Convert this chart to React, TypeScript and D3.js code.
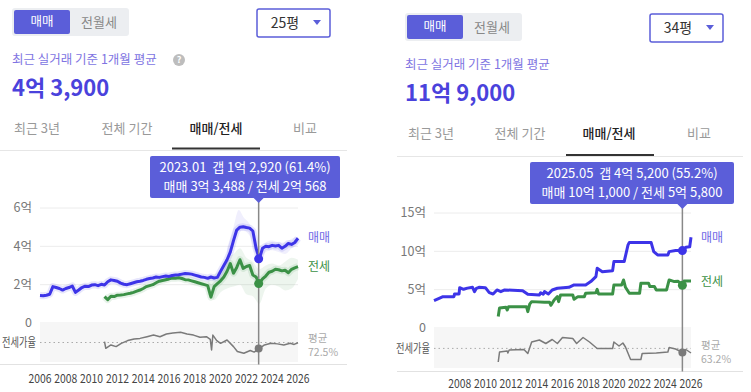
import React from 'react';
import * as d3 from 'd3';

const FONT = '"Noto Sans CJK KR", "Noto Sans", sans-serif';
const BLUE = '#3d34e8';
const GREEN = '#3b9146';
const GREY = '#7a7a7a';
const ACCENT = '#5b5ed9';

type Pt = [number, number];
type Band = [number, number, number];

// ---- 25평 (left), quarterly values in 억 ----
const leftSaleStart = 2006;
const leftSale = [
  1.43, 1.42, 1.45, 1.5, 1.9, 1.85, 1.8, 1.72,
  1.8, 1.85, 1.93, 1.6, 1.72, 1.85, 1.92, 1.9,
  1.98, 2.0, 1.95, 2.02, 1.98, 2.15, 2.25, 2.22,
  2.18, 2.08, 2.02, 2.0, 2.05, 2.1, 2.15, 2.18,
  2.22, 2.28, 2.32, 2.35, 2.4, 2.38, 2.42, 2.45,
  2.43, 2.48, 2.5, 2.52, 2.55, 2.58, 2.57, 2.55,
  2.5, 2.45, 2.4, 2.38, 2.33, 2.4, 2.35, 2.38,
  2.7, 3.0, 3.3, 3.7, 4.3, 4.85, 5.0, 5.02,
  4.98, 4.95, 4.8, 3.9, 3.35, 3.9, 4.0, 3.98,
  4.05, 4.02, 4.05, 3.9, 4.0, 4.15, 4.1, 4.2,
  4.42,
];
const leftJeonseStart = 2011;
const leftJeonse = [
  1.38, 1.22, 1.4, 1.38, 1.45, 1.46, 1.48, 1.52,
  1.55, 1.6, 1.66, 1.72, 1.8, 1.9, 1.95, 2.0,
  2.1, 2.18, 2.22, 2.26, 2.3, 2.35, 2.33, 2.36,
  2.32, 2.26, 2.25, 2.2, 2.15, 2.1, 2.05, 2.0,
  1.95, 1.35, 1.9, 2.05, 2.2, 2.4, 2.7, 3.1,
  2.6, 2.9, 3.3, 2.85, 2.95, 3.0, 2.5, 2.4,
  2.06, 2.3, 2.45, 2.65, 2.7, 2.8, 2.78, 2.72,
  2.75, 2.62, 2.8, 2.88, 2.94,
];
const leftRatio: Pt[] = [
  [2011.0, 74], [2011.1, 62], [2011.5, 68], [2011.9, 65], [2012.3, 71], [2012.8, 76],
  [2013.3, 79], [2013.75, 80], [2014.3, 83], [2014.8, 86], [2015.3, 83], [2015.8, 88],
  [2016.3, 90], [2016.9, 91], [2017.4, 88], [2017.9, 86], [2018.4, 82], [2018.9, 83],
  [2019.2, 78], [2019.3, 59], [2019.4, 86], [2019.7, 76], [2020.0, 71], [2020.5, 77],
  [2021.0, 65], [2021.3, 56], [2021.8, 53], [2022.3, 58], [2022.6, 55], [2023.0, 61.4],
  [2023.4, 68], [2023.9, 71], [2024.4, 70], [2024.9, 68], [2025.4, 71], [2025.7, 69],
  [2026.0, 72],
];
const leftSaleBand: Band[] = [
  [2020.5, 3.3, 3.9], [2021.0, 4.2, 5.0], [2021.4, 4.8, 5.9], [2021.8, 4.8, 5.5],
  [2022.3, 4.5, 5.1], [2022.7, 3.6, 4.3], [2023.0, 3.3, 3.6], [2023.5, 3.7, 4.2],
  [2024.0, 3.8, 4.3], [2024.5, 3.7, 4.2], [2025.0, 3.6, 4.2], [2025.5, 3.9, 4.4],
  [2026.0, 4.2, 4.5],
];
const leftJeonseBand: Band[] = [
  [2019.0, 1.5, 2.3], [2019.5, 1.2, 2.5], [2020.0, 1.6, 2.8], [2020.5, 1.8, 3.4],
  [2021.0, 1.9, 3.6], [2021.5, 2.0, 3.9], [2022.0, 1.5, 3.4], [2022.5, 1.4, 3.2],
  [2023.0, 1.0, 2.8], [2023.5, 1.8, 3.0], [2024.0, 2.0, 3.1], [2024.5, 1.9, 3.0],
  [2025.0, 1.7, 3.2], [2025.5, 1.8, 3.4], [2026.0, 2.3, 3.3],
];

// ---- 34평 (right), step points [year, 억] ----
const rightSale: Pt[] = [
  [2006.0, 3.57], [2006.4, 3.87], [2006.7, 4.09], [2007.55, 4.09], [2007.6, 4.44], [2007.95, 4.44],
  [2008.0, 5.26], [2008.3, 5.05], [2008.6, 5.2], [2009.0, 5.31], [2009.15, 4.74], [2009.3, 5.18],
  [2009.5, 5.31], [2010.0, 5.26], [2010.3, 4.61], [2010.6, 4.44], [2010.9, 4.96], [2011.2, 4.74],
  [2011.5, 4.96], [2012.9, 4.87], [2013.3, 4.39], [2014.2, 4.31], [2014.3, 4.6], [2014.5, 4.4],
  [2014.6, 4.74], [2014.9, 4.44], [2015.2, 4.96], [2015.6, 5.18], [2016.5, 5.31], [2016.9, 5.61],
  [2017.8, 5.61], [2018.2, 6.05], [2018.6, 6.7], [2018.7, 7.79], [2019.1, 7.35], [2019.9, 7.48],
  [2020.0, 8.66], [2020.8, 8.66], [2021.1, 10.84], [2021.2, 11.14], [2022.9, 11.14], [2023.1, 9.96],
  [2023.4, 9.53], [2024.2, 9.53], [2024.3, 9.96], [2024.8, 10.1], [2025.4, 10.1], [2025.6, 10.53],
  [2025.9, 10.6], [2026.0, 11.84],
];
const rightJeonse: Pt[] = [
  [2011.0, 1.5], [2011.1, 2.6], [2011.6, 2.7], [2011.7, 2.35], [2011.8, 2.78], [2013.2, 2.78],
  [2013.3, 2.13], [2013.45, 3.1], [2013.6, 3.44], [2014.6, 3.35], [2015.0, 3.35], [2015.1, 2.96],
  [2015.35, 3.66], [2015.6, 4.09], [2015.7, 3.44], [2015.85, 4.31], [2016.8, 4.31], [2016.9, 3.74],
  [2017.2, 4.09], [2017.7, 4.09], [2017.8, 4.53], [2018.6, 4.61], [2018.7, 5.05], [2018.8, 4.44],
  [2019.9, 4.44], [2020.0, 5.61], [2020.6, 5.61], [2020.75, 6.27], [2020.9, 5.31], [2021.2, 4.53],
  [2022.0, 4.53], [2022.1, 5.83], [2022.7, 5.83], [2022.8, 5.4], [2023.15, 5.4], [2023.3, 4.96],
  [2024.1, 4.96], [2024.3, 6.27], [2024.7, 6.05], [2025.0, 6.1], [2025.33, 5.58], [2025.45, 6.14],
  [2026.0, 6.14],
];
const rightRatio: Pt[] = [
  [2011.0, 36], [2011.1, 56], [2011.7, 58], [2011.75, 54], [2011.85, 60], [2013.0, 61],
  [2013.3, 53], [2013.6, 76], [2014.2, 80], [2014.7, 73], [2015.2, 81], [2015.6, 73],
  [2016.0, 85], [2016.8, 83], [2017.1, 73], [2017.6, 85], [2018.1, 76], [2018.7, 63],
  [2019.9, 63], [2020.0, 76], [2020.4, 68], [2020.7, 74], [2020.9, 66], [2021.3, 41],
  [2022.1, 41], [2022.2, 53], [2023.3, 54], [2024.2, 56], [2024.3, 65], [2024.8, 62],
  [2025.33, 55.2], [2025.6, 61], [2026.0, 54],
];

const leftYTicks = [0, 2, 4, 6];
const leftYTickLabels = ['0', '2억', '4억', '6억'];
const leftYears = [2006, 2008, 2010, 2012, 2014, 2016, 2018, 2020, 2022, 2024, 2026];
const rightYTicks = [0, 5, 10, 15];
const rightYTickLabels = ['0', '5억', '10억', '15억'];
const rightYears = [2008, 2010, 2012, 2014, 2016, 2018, 2020, 2022, 2024, 2026];

const tabs = ['최근 3년', '전체 기간', '매매/전세', '비교'];

const quarterly = (start: number, vals: number[]): Pt[] => vals.map((v, i) => [start + i * 0.25, v]);

interface PanelCfg {
  area: string; price: string; help: boolean;
  tog: [number, number]; drop: [number, number]; subY: number; priceY: number;
  tabY: number; tabX: number[]; under: [number, number, number]; divider: [number, number, number];
  x0: number; x1: number; yZero: number; yTop: number; yMax: number;
  yTicks: number[]; yTickLabels: string[]; years: number[]; yearY: number;
  ratioBottom: number; ratioDomain: [number, number]; avg: number; bottom: [number, number, number];
  cursor: number; tip: [number, number, number, number]; tipLines: string[];
  cur: { sale: number; jeonse: number; ratio: number };
  saleY: number; jeonseY: number; avgY: number;
  sale: Pt[]; jeonse: Pt[]; ratio: Pt[]; saleBand?: Band[]; jeonseBand?: Band[]; halo: boolean;
}

const left: PanelCfg = {
  area: '25평', price: '4억 3,900', help: true,
  tog: [12, 8], drop: [257, 9], subY: 60, priceY: 96,
  tabY: 128, tabX: [37, 127, 216, 305], under: [172, 260, 148.5], divider: [0, 347, 150.5],
  x0: 40, x1: 298, yZero: 323, yTop: 208, yMax: 6,
  yTicks: leftYTicks, yTickLabels: leftYTickLabels, years: leftYears, yearY: 379,
  ratioBottom: 362, ratioDomain: [37, 108], avg: 72.5, bottom: [0, 347, 364.5],
  cursor: 2022.95, tip: [150, 340, 156, 198],
  tipLines: ['2023.01\u00a0\u00a0갭 1억 2,920 (61.4%)', '매매 3억 3,488 / 전세 2억 568'],
  cur: { sale: 3.3488, jeonse: 2.0568, ratio: 61.4 },
  saleY: 238, jeonseY: 267, avgY: 338,
  sale: quarterly(leftSaleStart, leftSale), jeonse: quarterly(leftJeonseStart, leftJeonse), ratio: leftRatio,
  saleBand: leftSaleBand, jeonseBand: leftJeonseBand, halo: true,
};

const right: PanelCfg = {
  area: '34평', price: '11억 9,000', help: false,
  tog: [405, 13], drop: [650, 14], subY: 65, priceY: 101,
  tabY: 133, tabX: [431, 520, 609, 699], under: [566, 654, 155], divider: [397, 743, 156.5],
  x0: 434, x1: 691, yZero: 328, yTop: 213, yMax: 15,
  yTicks: rightYTicks, yTickLabels: rightYTickLabels, years: rightYears, yearY: 384,
  ratioBottom: 368, ratioDomain: [24, 104], avg: 63.2, bottom: [397, 743, 371.5],
  cursor: 2025.33, tip: [530, 734, 162, 204],
  tipLines: ['2025.05\u00a0\u00a0갭 4억 5,200 (55.2%)', '매매 10억 1,000 / 전세 5억 5,800'],
  cur: { sale: 10.1, jeonse: 5.58, ratio: 55.2 },
  saleY: 238, jeonseY: 282, avgY: 345,
  sale: rightSale, jeonse: rightJeonse, ratio: rightRatio, halo: false,
};

function Panel({ c }: { c: PanelCfg }) {
  const x = d3.scaleLinear().domain([2006, 2026]).range([c.x0, c.x1]);
  const y = d3.scaleLinear().domain([0, c.yMax]).range([c.yZero, c.yTop]);
  const r = d3.scaleLinear().domain(c.ratioDomain).range([c.ratioBottom, c.yZero]);
  const line = d3.line<Pt>().x(d => x(d[0])).y(d => y(d[1]));
  const rLine = d3.line<Pt>().x(d => x(d[0])).y(d => r(d[1]));
  const band = d3.area<Band>().x(d => x(d[0])).y0(d => y(d[1])).y1(d => y(d[2])).curve(d3.curveMonotoneX);
  const cx = x(c.cursor);
  const [tx0, tx1, ty0, ty1] = c.tip;
  const [gx, gy] = c.tog;
  const [dx, dy] = c.drop;
  const labelX = c.x1 + 10;

  return (
    <g fontFamily={FONT}>
      {/* header */}
      <rect x={gx} y={gy} width={117} height={28} rx={3} fill="#eceef1" />
      <rect x={gx + 2} y={gy + 2} width={56} height={24} rx={2} fill={ACCENT} />
      <text x={gx + 30} y={gy + 14} dy="0.35em" textAnchor="middle" fontSize={12.5} fill="#fff">매매</text>
      <text x={gx + 87} y={gy + 14} dy="0.35em" textAnchor="middle" fontSize={13} fill="#888">전월세</text>
      <rect x={dx} y={dy} width={73} height={28} rx={2} fill="#fff" stroke={ACCENT} strokeWidth={1.5} />
      <text x={dx + 28} y={dy + 14} dy="0.35em" textAnchor="middle" fontSize={14} fill="#333">{c.area}</text>
      <path d={`M${dx + 56},${dy + 11}L${dx + 64},${dy + 11}L${dx + 60},${dy + 16}Z`} fill={ACCENT} />
      <text x={c.tog[0]} y={c.subY} dy="0.35em" fontSize={12.5} fill="#8074e2">최근 실거래 기준 1개월 평균</text>
      {c.help && (
        <g>
          <circle cx={179} cy={c.subY} r={6} fill="#bdbdbd" />
          <text x={179} y={c.subY} dy="0.35em" textAnchor="middle" fontSize={9} fontWeight={700} fill="#fff">?</text>
        </g>
      )}
      <text x={c.tog[0]} y={c.priceY} fontSize={22} fontWeight={700} fill="#4a42dc">{c.price}</text>
      {tabs.map((t, i) => (
        <text key={t} x={c.tabX[i]} y={c.tabY} dy="0.35em" textAnchor="middle" fontSize={13}
          fill={i === 2 ? '#222' : '#999'} fontWeight={i === 2 ? 500 : 400}>{t}</text>
      ))}
      <line x1={c.divider[0]} x2={c.divider[1]} y1={c.divider[2]} y2={c.divider[2]} stroke="#e6e6e6" />
      <line x1={c.under[0]} x2={c.under[1]} y1={c.under[2]} y2={c.under[2]} stroke="#333" strokeWidth={2} />

      {/* grid */}
      {c.yTicks.map((t, i) => (
        <g key={t}>
          <line x1={c.x0} x2={c.x1} y1={y(t)} y2={y(t)} stroke="#ececec" />
          <text x={c.x0 - 8} y={y(t)} dy="0.35em" textAnchor="end" fontSize={12.5} fill="#777">{c.yTickLabels[i]}</text>
        </g>
      ))}
      <rect x={c.x0} y={c.yZero} width={c.x1 - c.x0} height={c.ratioBottom - c.yZero} fill="#f6f6f6" />
      <line x1={c.x0} x2={c.x1} y1={r(c.avg)} y2={r(c.avg)} stroke="#aaa" strokeDasharray="1.5,3" />
      <text x={c.x0 - 4} y={r(c.avg)} dy="0.35em" textAnchor="end" fontSize={12} fill="#555"
        textLength={34} lengthAdjust="spacingAndGlyphs">전세가율</text>
      <text x={labelX} y={c.avgY} dy="0.35em" fontSize={10.5} fill="#aaa">평균</text>
      <text x={labelX} y={c.avgY + 14} dy="0.35em" fontSize={10.5} fill="#aaa">{c.avg}%</text>

      {/* bands & lines */}
      {c.jeonseBand && <path d={band(c.jeonseBand) ?? ''} fill={GREEN} opacity={0.09} />}
      {c.saleBand && <path d={band(c.saleBand) ?? ''} fill={BLUE} opacity={0.08} />}
      {c.halo && <path d={line(c.jeonse) ?? ''} fill="none" stroke={GREEN} strokeOpacity={0.12} strokeWidth={7} strokeLinejoin="round" />}
      {c.halo && <path d={line(c.sale) ?? ''} fill="none" stroke={BLUE} strokeOpacity={0.12} strokeWidth={7} strokeLinejoin="round" />}
      <path d={line(c.jeonse) ?? ''} fill="none" stroke={GREEN} strokeWidth={3} strokeLinejoin="round" />
      <path d={line(c.sale) ?? ''} fill="none" stroke={BLUE} strokeWidth={3} strokeLinejoin="round" />
      <path d={rLine(c.ratio) ?? ''} fill="none" stroke={GREY} strokeWidth={1.5} strokeLinejoin="round" />
      <text x={labelX} y={c.saleY} dy="0.35em" fontSize={12} fill="#6f66e6">매매</text>
      <text x={labelX} y={c.jeonseY} dy="0.35em" fontSize={12} fill={GREEN}>전세</text>

      {/* axis */}
      <line x1={c.bottom[0]} x2={c.bottom[1]} y1={c.bottom[2]} y2={c.bottom[2]} stroke="#e2e2e2" />
      {c.years.map(yr => (
        <text key={yr} x={x(yr)} y={c.yearY} dy="0.35em" textAnchor="middle" fontSize={12} fill="#444"
          textLength={23} lengthAdjust="spacingAndGlyphs">{yr}</text>
      ))}

      {/* cursor & tooltip */}
      <line x1={cx} x2={cx} y1={ty1} y2={c.bottom[2]} stroke="#888" strokeWidth={1.5} />
      <circle cx={cx} cy={y(c.cur.sale)} r={4.5} fill={BLUE} />
      <circle cx={cx} cy={y(c.cur.jeonse)} r={4.5} fill={GREEN} />
      <circle cx={cx} cy={r(c.cur.ratio)} r={4} fill={GREY} />
      <rect x={tx0} y={ty0} width={tx1 - tx0} height={ty1 - ty0} rx={2} fill={ACCENT} />
      <path d={`M${cx - 5},${ty1}L${cx + 5},${ty1}L${cx},${ty1 + 5}Z`} fill={ACCENT} />
      {c.tipLines.map((t, i) => (
        <text key={i} x={(tx0 + tx1) / 2} y={ty0 + 11 + i * 19.5} dy="0.35em" textAnchor="middle" fontSize={13} fill="#fff">{t}</text>
      ))}
    </g>
  );
}

export default function App() {
  return (
    <svg width={751} height={392} style={{ position: 'absolute', left: 0, top: 0, background: '#fff' }}>
      <Panel c={left} />
      <Panel c={right} />
    </svg>
  );
}
